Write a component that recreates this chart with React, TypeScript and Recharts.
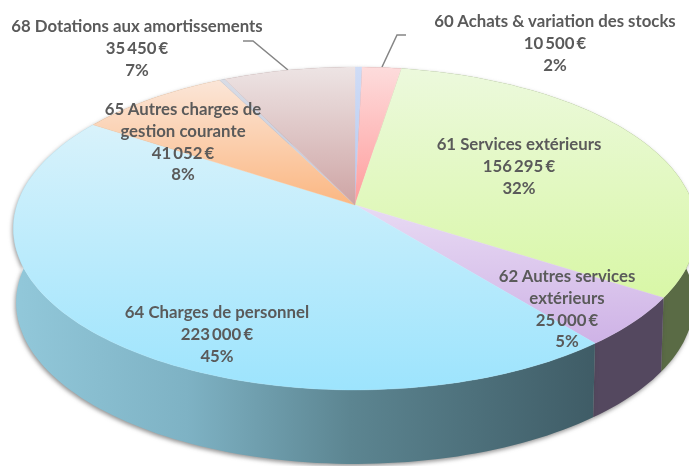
import { PieChart, Pie } from "recharts";

const sliceNames = [
  "Autres A",
  "60 Achats & variation des stocks",
  "61 Services extérieurs",
  "62 Autres services extérieurs",
  "64 Charges de personnel",
  "65 Autres charges de gestion courante",
  "Autres B",
  "68 Dotations aux amortissements",
];
const sliceValues = [1900, 10500, 156295, 25000, 223000, 41052, 1500, 35450];
const amountLabels = ["", "10 500 €", "156 295 €", "25 000 €", "223 000 €", "41 052 €", "", "35 450 €"];
const percentLabels = ["", "2%", "32%", "5%", "45%", "8%", "", "7%"];

// wrapped names, empty = no label on that slice
const nameLines = [
  [],
  ["60 Achats & variation des stocks"],
  ["61 Services extérieurs"],
  ["62 Autres services", "extérieurs"],
  ["64 Charges de personnel"],
  ["65 Autres charges de", "gestion courante"],
  [],
  ["68 Dotations aux amortissements"],
];

// label placement: centre x, centre y of first line
const labelAnchors = [
  null,
  [555, 20],
  [519, 143],
  [567, 275],
  [217, 311],
  [183, 108],
  null,
  [137, 25],
];

// top face gradients [y1, y2, from, to]
const topStyles: [number, number, string, string][] = [
  [67, 205, "#cfdcf6", "#b4c8f0"],
  [67, 205, "#fddcdc", "#ff9c9c"],
  [70, 300, "#ecf9dc", "#d8f7a6"],
  [205, 345, "#e8daf3", "#ceb2e6"],
  [125, 390, "#d8f2fb", "#9de4fd"],
  [80, 205, "#fbe6d8", "#fbb782"],
  [80, 205, "#d8dce6", "#bfc6d8"],
  [67, 205, "#ede4e4", "#cea4a4"],
];
const wallColors = ["#7c8fa8", "#a87070", "#5a6b45", "#54485f", "#000", "#b08050", "#888", "#907070"];

const CX = 355;
const CY = 205;
const RX = 338;
const RY = 158;
const TILT = 0.1455;
const DEPTH = 74;
const WALL_SCALE = 0.992;
const RADIAN = Math.PI / 180;

// perspective projection of a point of the disc rim
const rim = (cx: number, cy: number, r: number, deg: number, drop = 0, scale = 1) => {
  const u = Math.cos(deg * RADIAN) * (r / RX);
  const v = Math.sin(deg * RADIAN) * (r / RX);
  const w = 1 + TILT * v;
  return [cx + (scale * RX * u) / w, cy - (RY * v) / w + drop];
};

const arc = (p: any, drop = 0, scale = 1) => {
  const steps = Math.max(2, Math.ceil(Math.abs(p.startAngle - p.endAngle) / 1.5));
  const out: number[][] = [];
  for (let i = 0; i <= steps; i++) {
    const a = p.startAngle + ((p.endAngle - p.startAngle) * i) / steps;
    out.push(rim(p.cx, p.cy, p.outerRadius, a, drop, scale));
  }
  return out;
};

const toPath = (pts: number[][]) =>
  "M" + pts.map((q) => `${q[0].toFixed(1)},${q[1].toFixed(1)}`).join("L") + "Z";

const TopFace = (props: any) => (
  <path d={toPath([[props.cx, props.cy], ...arc(props)])} fill={props.fill} stroke={props.fill} strokeWidth={0.4} />
);

const SideWall = (props: any) => (
  <path
    d={toPath([...arc(props), ...arc(props, DEPTH, WALL_SCALE).reverse()])}
    fill={props.fill}
    style={{ filter: "drop-shadow(-1px 2px 2px rgba(60,60,60,0.55))" }}
  />
);

const renderLabel = (props: any) => {
  const i = props.index;
  const anchor = labelAnchors[i];
  if (!anchor) return null;
  const lines = [...nameLines[i], amountLabels[i], percentLabels[i]];
  return (
    <text
      key={i}
      textAnchor="middle"
      dominantBaseline="central"
      fontFamily="Lato"
      fontWeight={700}
      fontSize={16.8}
      fill="#5a5a5a"
    >
      {lines.map((t, k) => (
        <tspan key={k} x={anchor[0]} y={anchor[1] + k * 21.8} wordSpacing={t === amountLabels[i] ? -2 : 0}>
          {t}
        </tspan>
      ))}
    </text>
  );
};

const topData = sliceNames.map((name, i) => ({ name, value: sliceValues[i], fill: `url(#top${i})` }));
const wallData = sliceNames.map((name, i) => ({ name, value: sliceValues[i], fill: `url(#wall${i})` }));

export default function App() {
  return (
    <div
      style={{
        position: "absolute",
        left: 0,
        top: 0,
        width: 689,
        height: 466,
        background: "#fff",
        overflow: "hidden",
        filter: "blur(0.4px)",
      }}
    >
      <PieChart width={689} height={466} margin={{ top: 0, right: 0, bottom: 0, left: 0 }}>
        <defs>
          {topStyles.map((s, i) => (
            <linearGradient key={i} id={`top${i}`} gradientUnits="userSpaceOnUse" x1={0} x2={0} y1={s[0]} y2={s[1]}>
              <stop offset="0" stopColor={s[2]} />
              <stop offset="1" stopColor={s[3]} />
            </linearGradient>
          ))}
          {wallColors.map((c, i) =>
            i === 4 ? (
              <linearGradient key={i} id="wall4" gradientUnits="userSpaceOnUse" x1={13} x2={595} y1={0} y2={0}>
                <stop offset="0" stopColor="#92c8da" />
                <stop offset="0.3" stopColor="#7eb2c4" />
                <stop offset="0.58" stopColor="#5c8591" />
                <stop offset="1" stopColor="#3f5c66" />
              </linearGradient>
            ) : (
              <linearGradient key={i} id={`wall${i}`}>
                <stop offset="0" stopColor={c} />
                <stop offset="1" stopColor={c} />
              </linearGradient>
            )
          )}
        </defs>
        <Pie
          data={wallData}
          dataKey="value"
          nameKey="name"
          cx={CX}
          cy={CY}
          outerRadius={RX}
          startAngle={90}
          endAngle={-270}
          stroke="none"
          shape={SideWall}
          isAnimationActive={false}
        />
        <Pie
          data={topData}
          dataKey="value"
          nameKey="name"
          cx={CX}
          cy={CY}
          outerRadius={RX}
          startAngle={90}
          endAngle={-270}
          stroke="none"
          shape={TopFace}
          label={renderLabel}
          labelLine={false}
          isAnimationActive={false}
        />
        <polyline points="243,41 253,41 288,70" fill="none" stroke="#858585" strokeWidth={1.5} />
        <polyline points="382,67 397,35 406,35" fill="none" stroke="#858585" strokeWidth={1.5} />
      </PieChart>
    </div>
  );
}
